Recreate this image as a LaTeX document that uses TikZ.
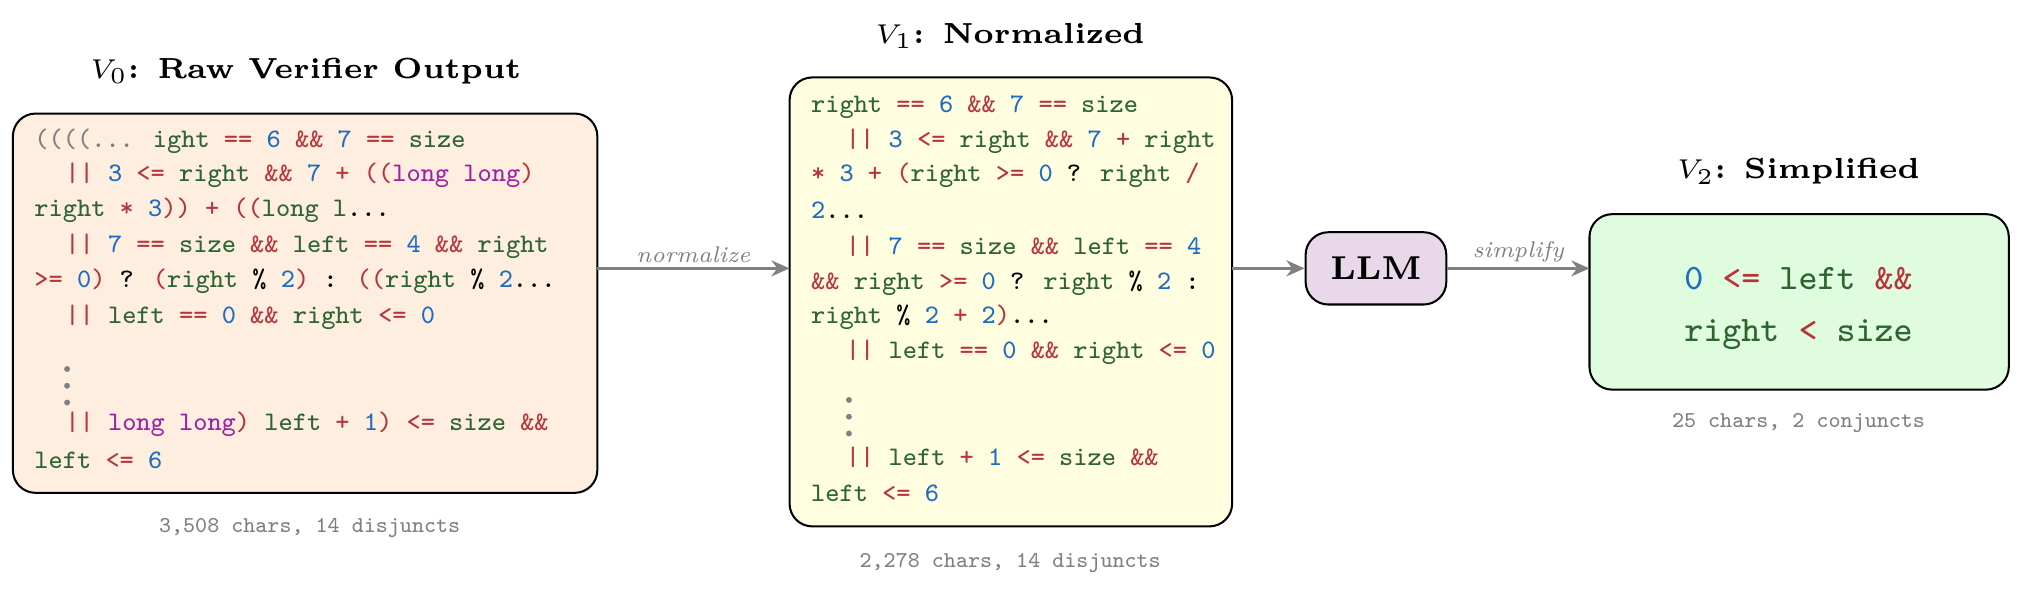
\documentclass[tikz,border=0pt]{standalone}
\usetikzlibrary{arrows.meta}
\definecolor{cg}{HTML}{2E6430}
\definecolor{cr}{HTML}{B8333A}
\definecolor{cb}{HTML}{1E6CC0}
\definecolor{cm}{HTML}{A020A8}
\definecolor{gy}{HTML}{808080}
\definecolor{f1}{HTML}{FDEEE0}
\definecolor{f2}{HTML}{FEFDDF}
\definecolor{f3}{HTML}{DFFCDF}
\definecolor{f4}{HTML}{E9D8EA}
\newcommand{\cG}[1]{\textcolor{cg}{#1}}
\newcommand{\cR}[1]{\textcolor{cr}{#1}}
\newcommand{\cB}[1]{\textcolor{cb}{#1}}
\newcommand{\cM}[1]{\textcolor{cm}{#1}}
\newcommand{\cY}[1]{\textcolor{gy}{#1}}
\begin{document}
\begin{tikzpicture}[x=0.01cm,y=-0.01cm,
  box/.style={draw=black,line width=0.45pt,rounded corners=5pt},
  code/.style={anchor=base west,inner sep=0pt,font=\fontsize{5.9}{7}\ttfamily},
  big/.style={anchor=center,inner sep=0pt,font=\fontsize{7.9}{9}\ttfamily},
  ttl/.style={anchor=center,font=\fontsize{6.4}{8}\bfseries},
  capt/.style={anchor=center,text=gy,font=\fontsize{5}{6}\ttfamily},
  arr/.style={-{Stealth[length=4pt,width=3.5pt]},draw=gy,line width=0.7pt},
  lab/.style={anchor=south,text=gy,font=\fontsize{5}{6}\itshape,inner sep=1pt},
  dot/.style={circle,fill=gy,inner sep=0pt,minimum size=1.3pt}]
\useasboundingbox (0,0) rectangle (1568,463);
% boxes
\draw[box,fill=f1] (10,88) rectangle (463,382);
\coordinate (b1e) at (463,208);
\draw[box,fill=f2] (612,60) rectangle (955,408);
\coordinate (b2w) at (612,208);
\coordinate (b2e) at (955,208);
\node[box,fill=f4,minimum width=1.09cm,minimum height=0.56cm,inner sep=0pt,font=\fontsize{7.3}{9}\bfseries] (llm) at (1066.5,208) {LLM};
\draw[box,fill=f3] (1232,166) rectangle (1557,302);
\coordinate (b3w) at (1232,208);
% titles
\node[ttl] (t1) at (237,55) {$V_0$: Raw Verifier Output};
\node[ttl] (t2) at (783,28) {$V_1$: Normalized};
\node[ttl] (t3) at (1394,133) {$V_2$: Simplified};
\node[capt] (c1) at (240,409) {3,508 chars, 14 disjuncts};
\node[capt] (c2) at (783,436) {2,278 chars, 14 disjuncts};
\node[capt] (c3) at (1394,328) {25 chars, 2 conjuncts};
% box1 code
\node[code] (a1) at (26,114) {\cY{((((...} \cG{ight} \cR{==} \cB{6} \cR{\&\&} \cB{7} \cR{==} \cG{size}};
\node[code] (a2) at (50,141) {\cR{||} \cB{3} \cR{<=} \cG{right} \cR{\&\&} \cB{7} \cR{+} \cR{((}\cM{long long}\cR{)}};
\node[code] (a3) at (26,168) {\cG{right} \cR{*} \cB{3}\cR{))} \cR{+} \cR{((}\cG{long l}...};
\node[code] (a4) at (50,196) {\cR{||} \cB{7} \cR{==} \cG{size} \cR{\&\&} \cG{left} \cR{==} \cB{4} \cR{\&\&} \cG{right}};
\node[code] (a5) at (26,223) {\cR{>=} \cB{0}\cR{)} ? \cR{(}\cG{right} \% \cB{2}\cR{)} : \cR{((}\cG{right} \% \cB{2}...};
\node[code] (a6) at (50,251) {\cR{||} \cG{left} \cR{==} \cB{0} \cR{\&\&} \cG{right} \cR{<=} \cB{0}};
\node[dot] (d1) at (52,286) {};
\node[dot] (d2) at (52,299) {};
\node[dot] (d3) at (52,312) {};
\node[code] (a7) at (50,334) {\cR{||} \cM{long long}\cR{)} \cG{left} \cR{+} \cB{1}\cR{)} \cR{<=} \cG{size} \cR{\&\&}};
\node[code] (a8) at (26,363) {\cG{left} \cR{<=} \cB{6}};
% box2 code
\node[code] (e1) at (628,87) {\cG{right} \cR{==} \cB{6} \cR{\&\&} \cB{7} \cR{==} \cG{size}};
\node[code] (e2) at (655,114) {\cR{||} \cB{3} \cR{<=} \cG{right} \cR{\&\&} \cB{7} \cR{+} \cG{right}};
\node[code] (e3) at (628,141) {\cR{*} \cB{3} \cR{+} \cR{(}\cG{right} \cR{>=} \cB{0} ? \cG{right} \cR{/}};
\node[code] (e4) at (628,169) {\cB{2}...};
\node[code] (e5) at (655,197) {\cR{||} \cB{7} \cR{==} \cG{size} \cR{\&\&} \cG{left} \cR{==} \cB{4}};
\node[code] (e6) at (628,224) {\cR{\&\&} \cG{right} \cR{>=} \cB{0} ? \cG{right} \% \cB{2} :};
\node[code] (e7) at (628,251) {\cG{right} \% \cB{2} \cR{+} \cB{2}\cR{)}...};
\node[code] (e8) at (655,278) {\cR{||} \cG{left} \cR{==} \cB{0} \cR{\&\&} \cG{right} \cR{<=} \cB{0}};
\node[dot] (g1) at (658,310) {};
\node[dot] (g2) at (658,323) {};
\node[dot] (g3) at (658,336) {};
\node[code] (e9) at (655,361) {\cR{||} \cG{left} \cR{+} \cB{1} \cR{<=} \cG{size} \cR{\&\&}};
\node[code] (e10) at (628,389) {\cG{left} \cR{<=} \cB{6}};
% box3
\node[big] (s1) at (1394,216) {\cB{0} \cR{<=} \cG{left} \cR{\&\&}};
\node[big] (s2) at (1394,259) {\cG{right} \cR{<} \cG{size}};
% arrows
\draw[arr] (b1e) -- node[lab] (l1) {normalize} (b2w);
\draw[arr] (b2e) -- (llm.west);
\draw[arr] (llm.east) -- node[lab] (l2) {simplify} (b3w);
\end{tikzpicture}
\end{document}
